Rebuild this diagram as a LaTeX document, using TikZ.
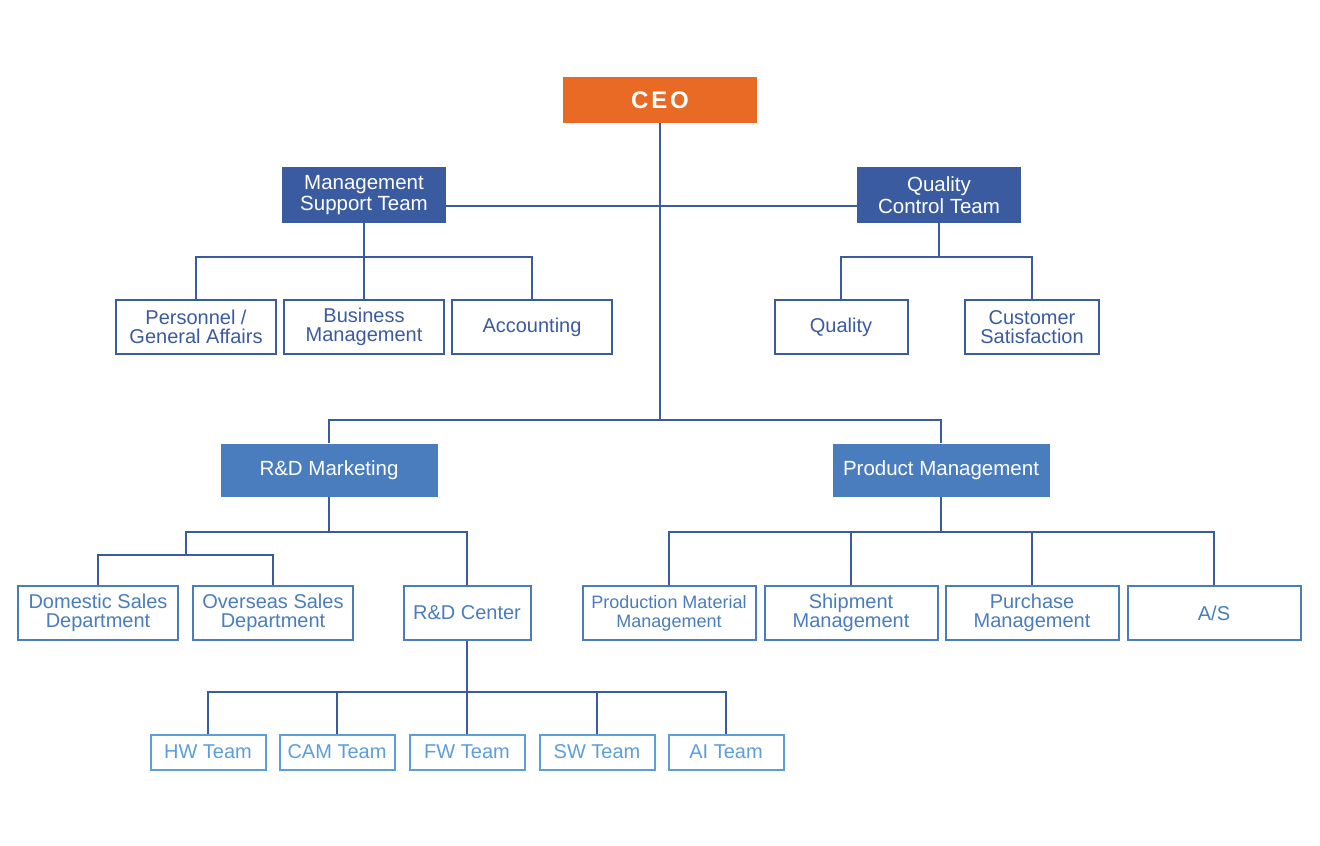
\documentclass[tikz,border=0pt]{standalone}
\usepackage{fontspec}
\setmainfont{Liberation Sans}
\newfontfamily\ceofont[LetterSpace=12]{Liberation Sans}
\definecolor{ceoorange}{HTML}{E96A25}
\definecolor{darkblue}{HTML}{3B5BA1}
\definecolor{midblue}{HTML}{4A7DBD}
\definecolor{lightblue}{HTML}{5C9EDB}
\tikzset{
  link/.style={draw=darkblue, line width=2pt},
  ceobox/.style={fill=ceoorange, text=white, minimum width=194, minimum height=46,
    inner sep=0pt, font=\ceofont\bfseries\fontsize{24}{24}\selectfont},
  headbox/.style={fill=darkblue, text=white, minimum width=164, minimum height=56,
    inner sep=0pt, align=center, font=\fontsize{20.5}{21.5}\selectfont},
  deptbox/.style={fill=midblue, text=white, minimum width=217, minimum height=53,
    inner sep=0pt, align=center, font=\fontsize{20.5}{21.5}\selectfont},
  unitbox/.style={draw=darkblue, text=darkblue, line width=2pt, fill=white,
    minimum height=54, inner sep=0pt, align=center, font=\fontsize{20}{19.5}\selectfont},
  subbox/.style={draw=midblue, text=midblue, line width=2pt, fill=white,
    minimum height=54, inner sep=0pt, align=center, font=\fontsize{20}{19.5}\selectfont},
  teambox/.style={draw=lightblue, text=lightblue, line width=2pt, fill=white,
    minimum width=115, minimum height=35, inner sep=0pt, font=\fontsize{20}{20}\selectfont},
}
\begin{document}
\begin{tikzpicture}[x=1pt, y=-1pt]
  \useasboundingbox (0,0) rectangle (1320,846);

  % top levels
  \node[ceobox] (ceo) at (660,100) {CEO};
  \node[headbox] (mst) at (364,195) {Management\\Support Team};
  \node[headbox] (qct) at (939,195) {Quality\\Control Team};
  \node[deptbox] (rdm) at (329,470) {R\&D Marketing};
  \node[deptbox] (pm) at (941,470) {Product Management};

  % management support team
  \node[unitbox, minimum width=160] (pga) at (196,327) {Personnel /\\General Affairs};
  \node[unitbox, minimum width=160] (bm) at (364,327) {Business\\Management};
  \node[unitbox, minimum width=160] (acc) at (532,327) {Accounting};

  % quality control team
  \node[unitbox, minimum width=133] (qual) at (841,327) {Quality};
  \node[unitbox, minimum width=134] (cs) at (1032,327) {Customer\\Satisfaction};

  % r&d marketing
  \node[subbox, minimum width=160] (dom) at (98,613) {Domestic Sales\\Department};
  \node[subbox, minimum width=160] (ovs) at (273,613) {Overseas Sales\\Department};
  \node[subbox, minimum width=127] (rdc) at (467,613) {R\&D Center};

  % product management
  \node[subbox, minimum width=173, font=\fontsize{18}{19}\selectfont] (pmm) at (669,613) {Production Material\\Management};
  \node[subbox, minimum width=173] (ship) at (851,613) {Shipment\\Management};
  \node[subbox, minimum width=173] (pur) at (1032,613) {Purchase\\Management};
  \node[subbox, minimum width=173] (as) at (1214,613) {A/S};

  % r&d center teams
  \foreach \name/\xpos/\label in {hw/208/HW Team, cam/337/CAM Team, fw/467/FW Team,
      sw/597/SW Team, ai/726/AI Team}
    \node[teambox] (\name) at (\xpos,752) {\label};

  % junctions
  \coordinate (j1) at (660,206);
  \coordinate (j2) at (660,420);
  \coordinate (b1) at (364,257);
  \coordinate (b2) at (939,257);
  \coordinate (b3) at (329,532);
  \coordinate (b4) at (186,555);
  \coordinate (b5) at (467,692);
  \coordinate (b6) at (941,532);

  \draw[link] (ceo) -- (j2);
  \draw[link] (mst.east |- j1) -- (qct.west |- j1);
  \draw[link] (rdm.north) |- (j2) -| (pm.north);

  \draw[link] (mst) -- (b1);
  \draw[link] (pga.north) |- (b1) -| (acc.north);
  \draw[link] (bm) -- (b1);

  \draw[link] (qct) -- (b2);
  \draw[link] (qual.north) |- (b2) -| (cs.north);

  \draw[link] (rdm) -- (b3);
  \draw[link] (b4) |- (b3) -| (rdc.north);
  \draw[link] (dom.north) |- (b4) -| (ovs.north);

  \draw[link] (rdc) -- (b5);
  \draw[link] (hw.north) |- (b5) -| (ai.north);
  \draw[link] (cam.north) -- (cam.north |- b5);
  \draw[link] (fw.north) -- (b5);
  \draw[link] (sw.north) -- (sw.north |- b5);

  \draw[link] (pm) -- (b6);
  \draw[link] (pmm.north) |- (b6) -| (as.north);
  \draw[link] (ship.north) -- (ship.north |- b6);
  \draw[link] (pur.north) -- (pur.north |- b6);
\end{tikzpicture}
\end{document}
